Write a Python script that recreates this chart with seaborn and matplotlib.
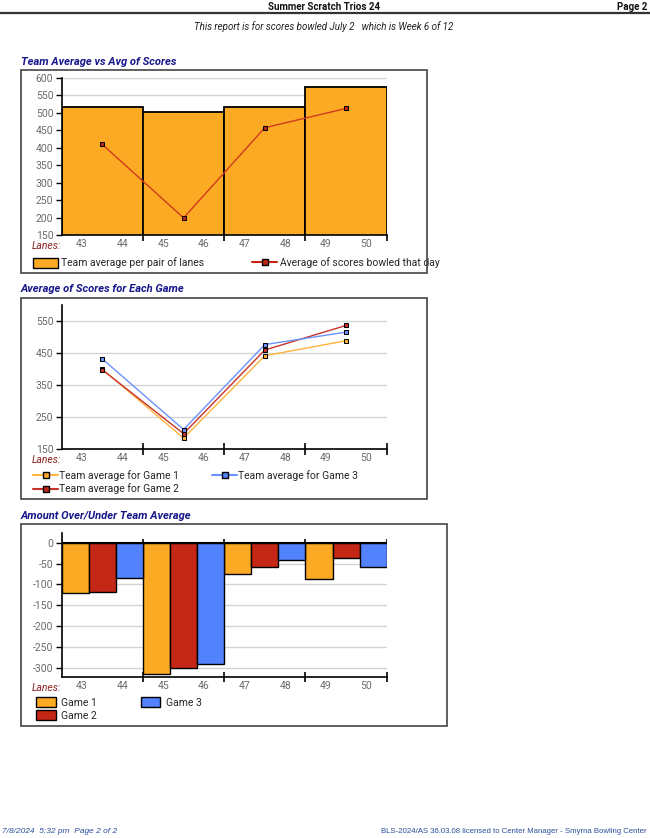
import matplotlib
matplotlib.use("Agg")
import matplotlib.pyplot as plt
import pandas as pd
import seaborn as sns
from matplotlib.lines import Line2D
from matplotlib.patches import Patch, Rectangle

# --- data ---
lanes = [43, 44, 45, 46, 47, 48, 49, 50]
pair_centers = [43.5, 45.5, 47.5, 49.5]
pair_edges = [44.5, 46.5, 48.5, 50.5]
team_avg = [516, 502, 516, 574]
day_avg = [409, 199, 457, 512]
game1_avg = [400, 184, 442, 489]
game2_avg = [398, 198, 460, 537]
game3_avg = [432, 211, 477, 516]
game1_over = [-121, -316, -74, -86]
game2_over = [-119, -302, -57, -37]
game3_over = [-85, -291, -42, -59]
games = ["Game 1", "Game 2", "Game 3"]

ORANGE = "#fcaa23"
RED = "#c42716"
BLUE = "#5382fe"
NAVY = "#16168a"
GRAY = "#6a6a6a"
FOOT = "#2a4f9c"
W, H = 650, 838

sns.set_theme(style="white")
plt.rcParams["font.family"] = ["Roboto", "DejaVu Sans"]
plt.rcParams["axes.unicode_minus"] = False

fig = plt.figure(figsize=(W / 100, H / 100), dpi=100)


def fx(x):
    return x / W


def fy(y):
    return 1 - y / H


def box(x0, y0, x1, y1):
    fig.add_artist(Rectangle((fx(x0), fy(y1)), (x1 - x0) / W, (y1 - y0) / H,
                             transform=fig.transFigure, fill=False,
                             edgecolor="#444444", lw=1.2))


def style_axis(ax, tick_dir, tick_len):
    sns.despine(ax=ax)
    for side in ("left", "bottom"):
        ax.spines[side].set_color("black")
        ax.spines[side].set_linewidth(1.2)
    ax.set_xlim(42.5, 50.5)
    ax.set_xticks(lanes)
    ax.set_xticklabels([str(l) for l in lanes])
    ax.set_xticks(pair_edges, minor=True)
    ax.tick_params(axis="x", which="major", length=0, pad=3, labelsize=7.5, labelcolor=GRAY)
    ax.tick_params(axis="x", which="minor", length=tick_len, width=1.2, color="black",
                   direction=tick_dir, bottom=True)
    ax.tick_params(axis="y", length=4, width=1, color="black", left=True,
                   labelsize=7.5, labelcolor=GRAY, pad=2)
    ax.yaxis.grid(True, color="#d4d4d4", lw=1)
    ax.set_axisbelow(True)
    ax.set_xlabel("")
    ax.set_ylabel("")


def lanes_label(y):
    fig.text(fx(61), fy(y), "Lanes:", ha="right", va="center", style="italic",
             fontsize=7.5, color="#8c2323")


# --- header / footer ---
fig.text(fx(324), fy(7.5), "Summer Scratch Trios 24", ha="center", va="center",
         fontsize=7, fontweight="bold", color="#111111")
fig.text(fx(647), fy(7.5), "Page 2", ha="right", va="center",
         fontsize=7, fontweight="bold", color="#111111")
fig.add_artist(Line2D([0, 1], [fy(13.2), fy(13.2)], transform=fig.transFigure,
                      color="#333333", lw=1.6))
fig.text(fx(324), fy(26.7), "This report is for scores bowled July 2   which is Week 6 of 12",
         ha="center", va="center", fontsize=7, style="italic", color="#222222")
fig.text(fx(2), fy(831.5), "7/8/2024  5:32 pm  Page 2 of 2", ha="left", va="center",
         fontsize=6, style="italic", color=FOOT, family=["Liberation Sans", "DejaVu Sans"])
fig.text(fx(647), fy(831.5),
         "BLS-2024/AS 36.03.08 licensed to Center Manager - Smyrna Bowling Center",
         ha="right", va="center", fontsize=5.6, color=FOOT,
         family=["Liberation Sans", "DejaVu Sans"])

title_kw = dict(ha="left", va="center", fontsize=8, fontweight="bold",
                style="italic", color=NAVY)

# --- chart 1: team average vs average of scores ---
fig.text(fx(21), fy(62), "Team Average vs Avg of Scores", **title_kw)
box(21.3, 70, 426.7, 272.7)
ax1 = fig.add_axes([fx(61.7), fy(235), 325 / W, 157.3 / H])
sns.barplot(x=pair_centers, y=team_avg, native_scale=True, width=1, color=ORANGE,
            saturation=1, edgecolor="black", linewidth=1.3, ax=ax1)
sns.lineplot(x=pair_centers, y=day_avg, color="#cf3b1c", lw=1, marker="s",
             markersize=3, markeredgecolor="black", markerfacecolor=RED, ax=ax1)
ax1.set_ylim(150, 600)
ax1.set_yticks(range(150, 601, 50))
style_axis(ax1, "out", 4)
lanes_label(246)
ax1.legend(handles=[Patch(facecolor=ORANGE, edgecolor="black", lw=1),
                    Line2D([], [], color=RED, lw=1.5, marker="s", markersize=4,
                           markeredgecolor="black", markerfacecolor=RED)],
           labels=["Team average per pair of lanes", "Average of scores bowled that day"],
           loc="center left", bbox_to_anchor=(fx(33), fy(263)),
           bbox_transform=fig.transFigure, ncol=2, frameon=False, fontsize=7.5,
           handlelength=2.4, handleheight=1.1, handletextpad=0.3, columnspacing=4.6,
           borderpad=0, borderaxespad=0)

# --- chart 2: average of scores for each game ---
fig.text(fx(21), fy(289), "Average of Scores for Each Game", **title_kw)
box(21.3, 297.7, 426.7, 499)
ax2 = fig.add_axes([fx(61.7), fy(449), 325 / W, (449 - 305.3) / H])
df2 = pd.DataFrame({
    "pair": pair_centers * 3,
    "avg": game1_avg + game2_avg + game3_avg,
    "game": [g for g in games for _ in pair_centers],
})
line_pal = {"Game 1": "#ffb43c", "Game 2": "#c8322a", "Game 3": "#6b93ff"}
sns.lineplot(data=df2, x="pair", y="avg", hue="game", palette=line_pal, lw=1,
             marker="s", markersize=3, markeredgecolor="black", legend=False, ax=ax2)
ax2.set_ylim(150, 600)
ax2.set_yticks(range(150, 551, 100))
style_axis(ax2, "inout", 8)
lanes_label(460)
leg_fill = {"Game 1": ORANGE, "Game 2": RED, "Game 3": BLUE}
ax2.legend(handles=[Line2D([], [], color=line_pal[g], lw=1.5, marker="s", markersize=4,
                           markeredgecolor="black", markerfacecolor=leg_fill[g])
                    for g in games],
           labels=["Team average for " + g for g in games],
           loc="upper left", bbox_to_anchor=(fx(33), fy(470)),
           bbox_transform=fig.transFigure, ncol=2, frameon=False, fontsize=7.5,
           handlelength=2.4, handletextpad=0.1, columnspacing=3.2, labelspacing=0.25,
           borderpad=0, borderaxespad=0)

# --- chart 3: amount over/under team average ---
fig.text(fx(21), fy(516), "Amount Over/Under Team Average", **title_kw)
box(21.3, 524.3, 447, 726)
ax3 = fig.add_axes([fx(61.7), fy(676.7), 325 / W, 143.4 / H])
df3 = pd.DataFrame({
    "pair": pair_centers * 3,
    "over": game1_over + game2_over + game3_over,
    "game": [g for g in games for _ in pair_centers],
})
sns.barplot(data=df3, x="pair", y="over", hue="game", native_scale=True, width=1,
            palette=leg_fill, saturation=1, edgecolor="black", linewidth=1,
            ax=ax3)
ax3.set_ylim(-322, 23)
ax3.set_yticks(range(0, -301, -50))
style_axis(ax3, "inout", 7)
ax3.axhline(0, color="black", lw=1.5, zorder=3)
ax3.vlines(pair_edges, 0, 9, color="black", lw=1.2)
lanes_label(688)
sns.move_legend(ax3, loc="upper left", bbox_to_anchor=(fx(36), fy(697)),
                bbox_transform=fig.transFigure, ncol=2, frameon=False, fontsize=7.5,
                title=None, handlelength=1.9, handleheight=1.1, handletextpad=0.5,
                columnspacing=4.2, labelspacing=0.25, borderpad=0, borderaxespad=0)

fig.savefig("out.png", dpi=100)
